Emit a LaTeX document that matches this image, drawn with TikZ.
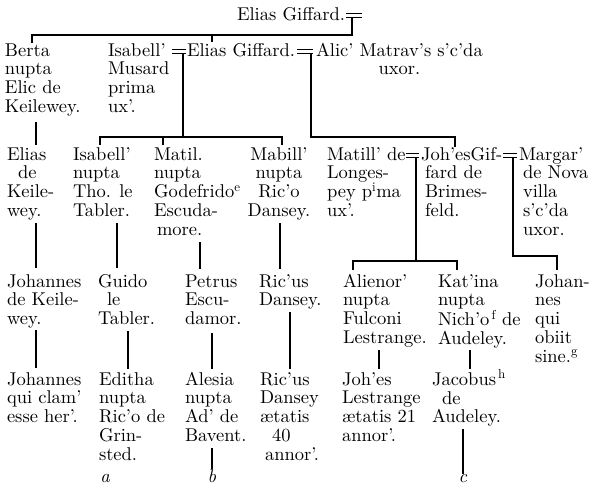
\documentclass[tikz,border=0pt]{standalone}
\usepackage{fontspec}
\setmainfont{lmroman10-regular}[Extension=.otf, ItalicFont=lmroman10-italic]
\newcommand\fl{\rule{0pt}{15pt}}
\newcommand\fsz{\fontsize{18.5}{18.8}\selectfont}
\begin{document}
\begin{tikzpicture}[x=1pt,y=-1pt,
  txt/.style={anchor=north west, inner sep=0pt, outer sep=0pt, align=left, font=\fsz},
  txtc/.style={anchor=north, inner sep=0pt, outer sep=0pt, align=center, font=\fsz},
  lbl/.style={anchor=base, inner sep=0pt, font=\fsz\itshape},
  ln/.style={line width=1.3pt},
  eqbar/.style={line width=1pt}]
\useasboundingbox[fill=white] (0,0) rectangle (595,488);

% ---------- row 1
\node[txt] (g1) at (237,5) {\fl Elias Giffard.};
\draw[eqbar] (346,13.5) -- (362,13.5) (346,17) -- (362,17);
\coordinate (m1) at (352,17);
\coordinate (m1b) at (352,35);
\coordinate (h1l) at (32,35);
\coordinate (d1a) at (32,43);
\coordinate (h1m) at (212,35);
\coordinate (d1b) at (212,42);
\draw[ln] (m1) -- (m1b) -- (h1l) -- (d1a);
\draw[ln] (h1m) -- (d1b);

% ---------- row 2
\node[txt] (berta) at (5,41) {\fl Berta\\nupta\\Elic de\\Keilewey.};
\node[txt] (isab1) at (108,41) {\fl Isabell'\\Musard\\prima\\ux'.};
\node[txt] (g2) at (187,41) {\fl Elias Giffard.};
\node[txt,align=center] (alic) at (316,41) {\fl Alic' Matrav's s'c'da\\uxor.};
\draw[eqbar] (172,49.5) -- (186,49.5) (172,53) -- (186,53);
\draw[eqbar] (297,49.5) -- (313,49.5) (297,53) -- (313,53);

\coordinate (m2) at (183,53);
\coordinate (m2b) at (183,137);
\coordinate (c2a) at (100,137);
\coordinate (c2ad) at (100,145);
\coordinate (c2b) at (163,137);
\coordinate (c2bd) at (163,145);
\coordinate (c2c) at (282,137);
\coordinate (c2cd) at (282,145);
\draw[ln] (m2) -- (m2b);
\draw[ln] (c2ad) -- (c2a) -- (c2c) -- (c2cd);
\draw[ln] (c2b) -- (c2bd);

\coordinate (m3) at (311,53);
\coordinate (m3b) at (311,137);
\coordinate (c3) at (455,137);
\coordinate (c3d) at (455,147);
\draw[ln] (m3) -- (m3b) -- (c3) -- (c3d);

% Berta -> Elias de Keilewey
\coordinate (v1a) at (36,122);
\coordinate (v1b) at (36,145);
\draw[ln] (v1a) -- (v1b);

% ---------- row 3
\node[txt] (elias3) at (7,145) {\fl Elias\\\hspace*{11pt}de\\Keile-\\wey.};
\node[txt] (isab3) at (73,145) {\fl Isabell'\\nupta\\Tho. le\\Tabler.};
\node[txt] (matil) at (154,145) {\fl Matil.\\nupta\\Godefrido\textsuperscript{e}\\Escuda-\\\hspace*{3pt}more.};
\node[txtc] (mabill) at (279,145) {\fl Mabill'\\nupta\\Ric'o\\Dansey.};
\node[txt] (matill) at (327,145) {\fl Matill' de\\Longes-\\pey p\textsuperscript{i}ma\\ux'.};
\node[txt] (johes) at (421,145) {\fl Joh'esGif-\\\hspace*{4pt}fard de\\\hspace*{4pt}Brimes-\\\hspace*{4pt}feld.};
\node[txt] (margar) at (519,145) {\fl Margar'\\\hspace*{4pt}de Nova\\\hspace*{4pt}villa\\\hspace*{4pt}s'c'da\\\hspace*{4pt}uxor.};
\draw[eqbar] (406,153.5) -- (419,153.5) (406,157) -- (419,157);
\draw[eqbar] (503,153.5) -- (517,153.5) (503,157) -- (517,157);

\coordinate (m4) at (416,157);
\coordinate (m4b) at (416,261);
\coordinate (c4a) at (353,261);
\coordinate (c4ad) at (353,270);
\coordinate (c4b) at (457,261);
\coordinate (c4bd) at (457,270);
\draw[ln] (m4) -- (m4b);
\draw[ln] (c4ad) -- (c4a) -- (c4b) -- (c4bd);

\coordinate (m5) at (513,157);
\coordinate (m5b) at (513,256);
\coordinate (c5) at (557,256);
\coordinate (c5d) at (557,270);
\draw[ln] (m5) -- (m5b) -- (c5) -- (c5d);

% row 3 -> row 4
\draw[ln] (36,223) coordinate (v2a) -- (36,268) coordinate (v2b);
\draw[ln] (117,223) coordinate (v3a) -- (117,268) coordinate (v3b);
\draw[ln] (200,242) coordinate (v4a) -- (200,269) coordinate (v4b);
\draw[ln] (280,223) coordinate (v5a) -- (280,269) coordinate (v5b);

% ---------- row 4
\node[txt] (joh4) at (7,272) {\fl Johannes\\de Keile-\\wey.};
\node[txt] (guido) at (98,272) {\fl Guido\\\hspace*{9pt}le\\Tabler.};
\node[txt] (petrus) at (185,272) {\fl Petrus\\Escu-\\damor.};
\node[txt] (ricus4) at (259,272) {\fl Ric'us\\Dansey.};
\node[txt] (alien) at (343,272) {\fl Alienor'\\nupta\\Fulconi\\Lestrange.};
\node[txt] (katina) at (438,272) {\fl Kat'ina\\nupta\\Nich'o\textsuperscript{\,f} de\\Audeley.};
\node[txt] (johan) at (535,272) {\fl Johan-\\nes\\qui\\obiit\\sine.\textsuperscript{g}};

% row 4 -> row 5
\draw[ln] (36,330) coordinate (v6a) -- (36,368) coordinate (v6b);
\draw[ln] (128,331) coordinate (v7a) -- (128,369) coordinate (v7b);
\draw[ln] (212,333) coordinate (v8a) -- (212,369) coordinate (v8b);
\draw[ln] (290,312) coordinate (v9a) -- (290,369) coordinate (v9b);
\draw[ln] (379,350) coordinate (v10a) -- (379,369) coordinate (v10b);
\draw[ln] (470,350) coordinate (v11a) -- (470,369) coordinate (v11b);

% ---------- row 5
\node[txt] (joh5) at (7,370) {\fl Johannes\\qui clam'\\esse her'.};
\node[txt] (editha) at (99,370) {\fl Editha\\nupta\\Ric'o de\\Grin-\\sted.};
\node[txt] (alesia) at (185,370) {\fl Alesia\\nupta\\Ad' de\\Bavent.};
\node[txt] (ricus5) at (260,370) {\fl Ric'us\\Dansey\\{\ae}tatis\\\hspace*{12pt}40\\\hspace*{5pt}annor'.};
\node[txt] (johes5) at (342,370) {\fl Joh'es\\Lestrange\\{\ae}tatis 21\\annor'.};
\node[txt] (jacob) at (432,370) {\fl Jacobus\textsuperscript{\,h}\\\hspace*{10pt}de\\Audeley.};

% ---------- bottom marks
\node[lbl] (la) at (105,482) {a};
\node[lbl] (lb) at (212,482) {b};
\node[lbl] (lc) at (463,482) {c};
\draw[ln] (212,448) coordinate (v12a) -- (lb.north);
\draw[ln] (463,429) coordinate (v13a) -- (lc.north);
\end{tikzpicture}
\end{document}
